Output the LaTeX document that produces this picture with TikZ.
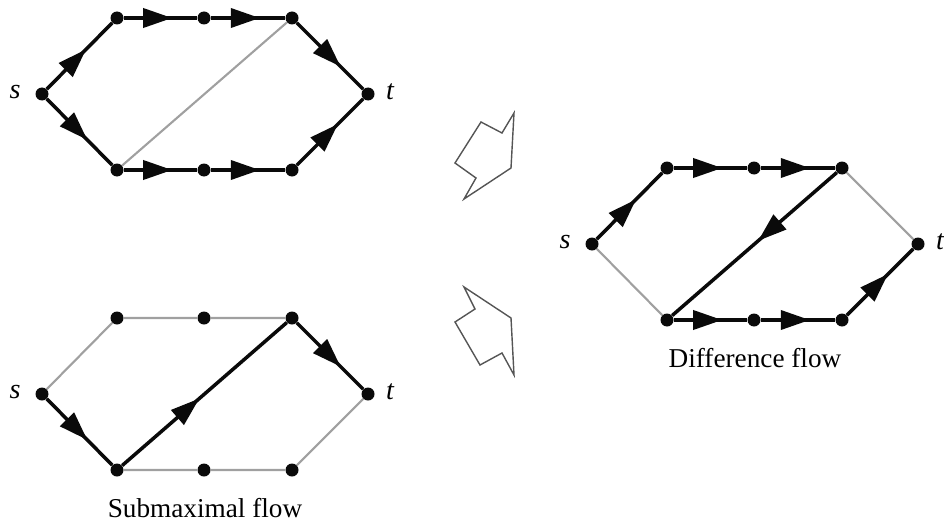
\documentclass[tikz,border=0pt]{standalone}
\usepackage{fontspec}
\setmainfont{Liberation Serif}
\usetikzlibrary{arrows.meta,decorations.markings}
\definecolor{ink}{RGB}{10,10,10}
\definecolor{idle}{RGB}{160,160,160}
\definecolor{pen}{RGB}{85,85,85}
\tikzset{
  vtx/.style={circle,fill=ink,inner sep=0pt,minimum size=2.6mm},
  flow/.style={draw=ink,line width=2pt,postaction={decorate},
    decoration={markings,mark=at position #1 with {\arrow{Triangle[length=5.8mm,width=3.8mm]}}}},
  flow/.default=0.6,
  idle edge/.style={draw=idle,line width=1.2pt},
  vlabel/.style={font=\fontsize{16}{18}\selectfont\itshape,inner sep=0pt},
  caption/.style={font=\fontsize{15.5}{18}\selectfont},
  hint/.style={draw=pen,line width=0.8pt,line join=miter},
}

\begin{document}
\begin{tikzpicture}[x=0.2mm,y=-0.2mm]
  \useasboundingbox (0,0) rectangle (944,529);
  % the three copies of the network
  \foreach \g/\dx/\dy in {1/0/0,2/0/300,3/550/150} {
    \node[vtx] (s\g) at (42+\dx,94+\dy) {};
    \node[vtx] (a\g) at (117+\dx,18+\dy) {};
    \node[vtx] (b\g) at (204+\dx,18+\dy) {};
    \node[vtx] (c\g) at (292+\dx,18+\dy) {};
    \node[vtx] (t\g) at (368+\dx,94+\dy) {};
    \node[vtx] (d\g) at (117+\dx,170+\dy) {};
    \node[vtx] (e\g) at (204+\dx,170+\dy) {};
    \node[vtx] (f\g) at (292+\dx,170+\dy) {};
    \node[vlabel] (ls\g) at (15+\dx,92+\dy) {s};
    \node[vlabel] (lt\g) at (390+\dx,92+\dy) {t};
  }

  % maximal flow
  \draw[idle edge] (c1) -- (d1);
  \draw[flow=0.6] (s1) -- (a1);
  \draw[flow=0.66] (a1) -- (b1);
  \draw[flow=0.66] (b1) -- (c1);
  \draw[flow=0.66] (c1) -- (t1);
  \draw[flow=0.62] (s1) -- (d1);
  \draw[flow=0.66] (d1) -- (e1);
  \draw[flow=0.66] (e1) -- (f1);
  \draw[flow=0.62] (f1) -- (t1);

  % submaximal flow
  \draw[idle edge] (s2) -- (a2) -- (b2) -- (c2);
  \draw[idle edge] (d2) -- (e2) -- (f2) -- (t2);
  \draw[flow=0.62] (s2) -- (d2);
  \draw[flow=0.47] (d2) -- (c2);
  \draw[flow=0.66] (c2) -- (t2);
  \node[caption] (cap2) at (205,508) {Submaximal flow};

  % difference flow
  \draw[idle edge] (c3) -- (t3);
  \draw[idle edge] (s3) -- (d3);
  \draw[flow=0.6] (s3) -- (a3);
  \draw[flow=0.66] (a3) -- (b3);
  \draw[flow=0.66] (b3) -- (c3);
  \draw[flow=0.48] (c3) -- (d3);
  \draw[flow=0.66] (d3) -- (e3);
  \draw[flow=0.66] (e3) -- (f3);
  \draw[flow=0.62] (f3) -- (t3);
  \node[caption] (cap3) at (755,358) {Difference flow};

  % hollow arrows
  \draw[hint] (514,113) -- (502,133) -- (481,122) -- (455,163) -- (476,178)
    -- (464,199) -- (511,168) -- cycle;
  \draw[hint] (464,287) -- (475,309) -- (455,322) -- (480,365) -- (502,353)
    -- (514,375) -- (511,318) -- cycle;
\end{tikzpicture}
\end{document}
